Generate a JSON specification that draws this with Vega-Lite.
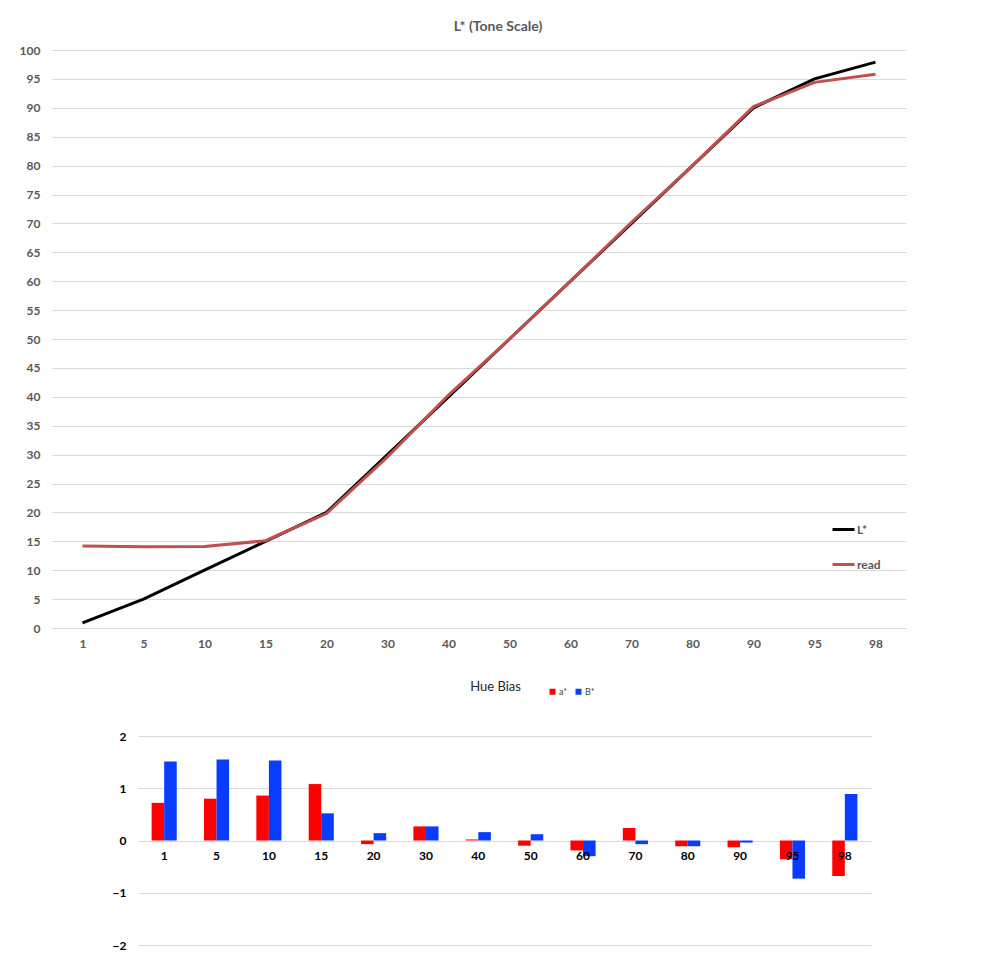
{
  "$schema": "https://vega.github.io/schema/vega-lite/v6.json",
  "background": "white",
  "padding": {"left": 10, "top": 20, "right": 10, "bottom": 0},
  "spacing": 32,
  "resolve": {"scale": {"color": "independent"}, "legend": {"color": "independent"}},
  "config": {"font": "Lato", "view": {"stroke": null}},
  "datasets": {
    "tone": [
      {"patch": 1, "series": "L*", "value": 0.9},
      {"patch": 5, "series": "L*", "value": 5},
      {"patch": 10, "series": "L*", "value": 10},
      {"patch": 15, "series": "L*", "value": 15},
      {"patch": 20, "series": "L*", "value": 20},
      {"patch": 30, "series": "L*", "value": 30},
      {"patch": 40, "series": "L*", "value": 40},
      {"patch": 50, "series": "L*", "value": 50},
      {"patch": 60, "series": "L*", "value": 60},
      {"patch": 70, "series": "L*", "value": 70},
      {"patch": 80, "series": "L*", "value": 80},
      {"patch": 90, "series": "L*", "value": 90},
      {"patch": 95, "series": "L*", "value": 95},
      {"patch": 98, "series": "L*", "value": 97.9},
      {"patch": 1, "series": "read", "value": 14.2},
      {"patch": 5, "series": "read", "value": 14.05},
      {"patch": 10, "series": "read", "value": 14.1},
      {"patch": 15, "series": "read", "value": 15.1},
      {"patch": 20, "series": "read", "value": 19.8},
      {"patch": 30, "series": "read", "value": 29.6},
      {"patch": 40, "series": "read", "value": 40.3},
      {"patch": 50, "series": "read", "value": 50},
      {"patch": 60, "series": "read", "value": 60},
      {"patch": 70, "series": "read", "value": 70.2},
      {"patch": 80, "series": "read", "value": 80},
      {"patch": 90, "series": "read", "value": 90.2},
      {"patch": 95, "series": "read", "value": 94.4},
      {"patch": 98, "series": "read", "value": 95.8}
    ],
    "hue": [
      {"patch": 1, "series": "a*", "value": 0.72},
      {"patch": 5, "series": "a*", "value": 0.8},
      {"patch": 10, "series": "a*", "value": 0.86},
      {"patch": 15, "series": "a*", "value": 1.08},
      {"patch": 20, "series": "a*", "value": -0.07},
      {"patch": 30, "series": "a*", "value": 0.27},
      {"patch": 40, "series": "a*", "value": 0.02},
      {"patch": 50, "series": "a*", "value": -0.1},
      {"patch": 60, "series": "a*", "value": -0.19},
      {"patch": 70, "series": "a*", "value": 0.24},
      {"patch": 80, "series": "a*", "value": -0.11},
      {"patch": 90, "series": "a*", "value": -0.13},
      {"patch": 95, "series": "a*", "value": -0.36},
      {"patch": 98, "series": "a*", "value": -0.68},
      {"patch": 1, "series": "B*", "value": 1.51},
      {"patch": 5, "series": "B*", "value": 1.55},
      {"patch": 10, "series": "B*", "value": 1.53},
      {"patch": 15, "series": "B*", "value": 0.52},
      {"patch": 20, "series": "B*", "value": 0.14},
      {"patch": 30, "series": "B*", "value": 0.27},
      {"patch": 40, "series": "B*", "value": 0.16},
      {"patch": 50, "series": "B*", "value": 0.12},
      {"patch": 60, "series": "B*", "value": -0.3},
      {"patch": 70, "series": "B*", "value": -0.07},
      {"patch": 80, "series": "B*", "value": -0.11},
      {"patch": 90, "series": "B*", "value": -0.04},
      {"patch": 95, "series": "B*", "value": -0.73},
      {"patch": 98, "series": "B*", "value": 0.89}
    ],
    "blank": [{"t": ""}]
  },
  "vconcat": [
    {
      "width": 854,
      "height": 578,
      "title": {"text": "L* (Tone Scale)", "fontSize": 14, "fontWeight": "bold", "color": "#595959", "dx": 19, "offset": 10},
      "data": {"name": "tone"},
      "mark": {"type": "line", "strokeWidth": 3},
      "encoding": {
        "x": {
          "field": "patch", "type": "ordinal",
          "axis": {"labelAngle": 0, "domain": false, "ticks": false, "labelPadding": 10, "labelFontSize": 12, "labelFontWeight": "bold", "labelColor": "#595959", "title": null}
        },
        "y": {
          "field": "value", "type": "quantitative",
          "scale": {"domain": [0, 100]},
          "axis": {"values": [0, 5, 10, 15, 20, 25, 30, 35, 40, 45, 50, 55, 60, 65, 70, 75, 80, 85, 90, 95, 100], "domain": false, "ticks": false, "labelPadding": 12, "minExtent": 42, "gridColor": "#d9d9d9", "labelFontSize": 12, "labelFontWeight": "bold", "labelColor": "#595959", "title": null}
        },
        "color": {
          "field": "series", "type": "nominal",
          "scale": {"domain": ["L*", "read"], "range": ["#000000", "#c0504d"]},
          "legend": {"orient": "none", "direction": "vertical", "legendX": 779, "legendY": 467, "title": null, "symbolType": "stroke", "symbolStrokeWidth": 3, "symbolSize": 484, "labelFontSize": 12, "labelFontWeight": "bold", "labelColor": "#595959", "rowPadding": 16, "labelOffset": 1}
        }
      }
    },
    {
      "spacing": 20,
      "hconcat": [
        {
          "width": 40,
          "height": 209,
          "data": {"name": "blank"},
          "mark": {"type": "text"},
          "encoding": {"text": {"field": "t"}}
        },
        {
          "width": 733,
          "height": 209,
          "title": {"text": "Hue Bias", "fontSize": 13, "fontWeight": "normal", "color": "#262626", "dx": -9, "offset": 36},
          "data": {"name": "hue"},
          "mark": {"type": "bar"},
          "encoding": {
            "x": {
              "field": "patch", "type": "ordinal",
              "scale": {"paddingInner": 0.52, "paddingOuter": 0.26},
              "axis": {"labelAngle": 0, "domain": false, "ticks": false, "offset": -104, "labelPadding": 9, "labelFontSize": 12, "labelFontWeight": "bold", "labelColor": "#000000", "title": null, "zindex": 1}
            },
            "xOffset": {"field": "series", "type": "nominal", "scale": {"domain": ["a*", "B*"]}},
            "y": {
              "field": "value", "type": "quantitative",
              "scale": {"domain": [-2, 2]},
              "axis": {"values": [-2, -1, 0, 1, 2], "domain": false, "ticks": false, "labelPadding": 12, "minExtent": 26, "gridColor": "#d9d9d9", "labelFontSize": 12, "labelFontWeight": "bold", "labelColor": "#000000", "title": null}
            },
            "color": {
              "field": "series", "type": "nominal",
              "scale": {"domain": ["a*", "B*"], "range": ["#ff0000", "#0a3cff"]},
              "legend": {"orient": "none", "direction": "horizontal", "legendX": 496, "legendY": -49, "title": null, "symbolType": "square", "symbolSize": 36, "symbolStrokeWidth": 0, "labelFontSize": 9, "labelColor": "#404040", "columnPadding": 6, "labelOffset": 2}
            }
          }
        }
      ]
    }
  ]
}
